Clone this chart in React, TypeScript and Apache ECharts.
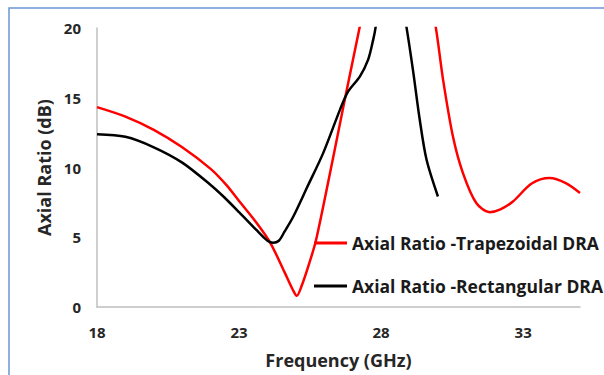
import React, { useEffect, useRef } from "react";
import * as echarts from "echarts";

const trapFreq = [18.0, 19.0, 20.0, 21.0, 22.0, 22.55, 23.0, 23.62, 24.1, 24.6, 24.9, 25.03, 25.2, 25.45, 25.71, 26.3, 26.72, 27.25, 27.6, 28.6, 29.7, 29.92, 30.18, 30.53, 30.88, 31.35, 31.82, 32.2, 32.64, 33.3, 33.93, 34.5, 35.0];
const trapAR = [14.33, 13.65, 12.7, 11.45, 9.9, 8.75, 7.6, 6.02, 4.6, 2.5, 1.2, 0.8, 1.5, 3.0, 4.8, 10.6, 14.85, 20.1, 23.5, 32.0, 22.0, 20.1, 16.3, 12.2, 9.6, 7.45, 6.8, 7.0, 7.56, 8.85, 9.24, 8.88, 8.17];

const rectFreq = [18.0, 19.0, 20.0, 21.0, 22.0, 22.45, 23.0, 23.6, 24.0, 24.2, 24.4, 24.6, 24.91, 25.4, 25.96, 26.55, 26.84, 27.25, 27.54, 27.72, 27.81, 28.0, 28.4, 28.8, 28.89, 29.12, 29.36, 29.6, 30.0];
const rectAR = [12.39, 12.2, 11.45, 10.35, 8.75, 7.92, 6.8, 5.54, 4.75, 4.6, 4.75, 5.4, 6.49, 8.6, 11.03, 14.13, 15.45, 16.52, 17.71, 19.15, 20.1, 23.0, 32.0, 21.0, 20.1, 17.0, 13.42, 10.55, 7.92];

const xTicks = [18, 23, 28, 33];
const seriesNames = ["Axial Ratio -Trapezoidal DRA", "Axial Ratio -Rectangular DRA"];

const FONT = "Open Sans";

export default function App() {
  const ref = useRef<HTMLDivElement>(null);
  useEffect(() => {
    if (!ref.current) return;
    const chart = echarts.init(ref.current, null, { renderer: "svg" });
    const trapData = trapFreq.map((f, i) => [f, trapAR[i]]);
    const rectData = rectFreq.map((f, i) => [f, rectAR[i]]);
    chart.setOption({
      animation: false,
      backgroundColor: "#ffffff",
      grid: { left: 97, right: 24, top: 28, bottom: 68, containLabel: false },
      xAxis: {
        type: "value",
        min: 18,
        max: 35,
        name: "Frequency (GHz)",
        nameLocation: "middle",
        nameGap: 44,
        nameTextStyle: { fontFamily: FONT, fontWeight: "bold", fontSize: 18, color: "#262626" },
        axisLine: { show: true, lineStyle: { color: "#bfbfbf", width: 1.5 } },
        axisTick: { show: false },
        splitLine: { show: false },
        axisLabel: {
          customValues: xTicks,
          margin: 17,
          fontFamily: FONT,
          fontWeight: "bold",
          fontSize: 15,
          color: "#262626",
        },
      },
      yAxis: {
        type: "value",
        min: 0,
        max: 20,
        interval: 5,
        name: "Axial Ratio (dB)",
        nameLocation: "middle",
        nameGap: 43,
        nameTextStyle: { fontFamily: FONT, fontWeight: "bold", fontSize: 18, color: "#262626" },
        axisLine: { show: true, lineStyle: { color: "#bfbfbf", width: 1.5 } },
        axisTick: { show: false },
        splitLine: { show: false },
        axisLabel: {
          margin: 16,
          fontFamily: FONT,
          fontWeight: "bold",
          fontSize: 15,
          color: "#262626",
        },
      },
      legend: {
        orient: "vertical",
        left: 309,
        top: 229,
        itemWidth: 33,
        itemHeight: 3,
        itemGap: 25,
        icon: "rect",
        textStyle: { fontFamily: FONT, fontWeight: "bold", fontSize: 17.5, color: "#1a1a1a" },
        data: seriesNames,
      },
      series: [
        {
          name: seriesNames[0],
          type: "line",
          data: trapData,
          showSymbol: false,
          symbol: "none",
          smooth: 0.3,
          clip: true,
          lineStyle: { color: "#ff0000", width: 2.5 },
          itemStyle: { color: "#ff0000" },
        },
        {
          name: seriesNames[1],
          type: "line",
          data: rectData,
          showSymbol: false,
          symbol: "none",
          smooth: 0.3,
          clip: true,
          lineStyle: { color: "#000000", width: 2.5 },
          itemStyle: { color: "#000000" },
        },
      ],
      graphic: [
        {
          type: "rect",
          left: 6.5,
          top: 5.5,
          shape: { x: 0, y: 0, width: 620, height: 368 },
          style: { fill: "none", stroke: "#6b95d8", lineWidth: 1.5 },
          silent: true,
        },
      ],
    });
    return () => chart.dispose();
  }, []);
  return <div ref={ref} style={{ position: "fixed", left: 0, top: 0, width: 604, height: 375 }} />;
}
